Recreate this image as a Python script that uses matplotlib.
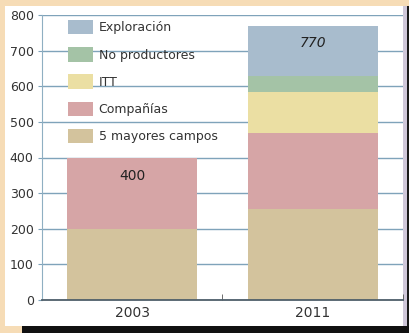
import matplotlib
matplotlib.use("Agg")
import matplotlib.pyplot as plt
from matplotlib.patches import Rectangle, Patch

# --- data ---
years = ["2003", "2011"]
series = ["5 mayores campos", "Compañías", "ITT", "No productores", "Exploración"]
mayores = [200, 255]
companias = [200, 215]
itt = [0, 115]
no_prod = [0, 45]
exploracion = [0, 140]
totals = ["400", "770"]

colors = ["#D3C39D", "#D6A5A6", "#EBDFA3", "#A4C3A6", "#A8BCCD"]

W, H = 410, 333
fig = plt.figure(figsize=(W / 100, H / 100), dpi=100)
fig.patch.set_facecolor("#F6DCB6")

def px(x0, y0, x1, y1, color):
    # rectangle in pixel coords (origin top-left)
    fig.patches.append(Rectangle((x0 / W, 1 - y1 / H), (x1 - x0) / W, (y1 - y0) / H,
                                 transform=fig.transFigure, facecolor=color,
                                 edgecolor="none", zorder=-10))

px(5, 6, 403, 326, "white")
px(403, 6, 410, 333, "#CFC7D9")
px(407, 6, 410, 333, "#1A1A1A")
px(22, 326, 410, 333, "#111111")

ax = fig.add_axes([42 / W, (H - 300) / H, (403 - 42) / W, 285 / H])
ax.set_facecolor("none")
ax.set_zorder(5)

x = [0, 1]
stack = [mayores, companias, itt, no_prod, exploracion]
bottom = [0, 0]
for vals, c, name in zip(stack, colors, series):
    ax.bar(x, vals, width=0.72, bottom=bottom, color=c, label=name, zorder=2)
    bottom = [b + v for b, v in zip(bottom, vals)]

ax.text(0, 348, totals[0], ha="center", va="center", fontsize=10, color="#222222", zorder=3)
ax.text(1, 722, totals[1], ha="center", va="center", fontsize=10, color="#222222",
        style="italic", zorder=3)

ax.set_xlim(-0.5, 1.5)
ax.set_ylim(0, 800)
ax.set_yticks(range(0, 801, 100))
ax.set_xticks(x)
ax.set_xticklabels(years)
ax.set_xticks([0.5, 1.5], minor=True)
ax.tick_params(axis="y", labelsize=9, colors="#333333", length=3, color="#7FA3BA", pad=3)
ax.tick_params(axis="x", which="major", labelsize=10, colors="#333333", length=0, pad=4)
ax.tick_params(axis="x", which="minor", length=4, color="#555555", direction="in")

ax.grid(axis="y", color="#7FA3BA", linewidth=1.0, zorder=1)
ax.set_axisbelow(True)
for s in ["top", "right"]:
    ax.spines[s].set_visible(False)
ax.spines["left"].set_color("#8FAFC2")
ax.spines["bottom"].set_color("#4F5F6A")
ax.spines["bottom"].set_linewidth(1.3)

handles = [Patch(facecolor=c, edgecolor="none") for c in colors][::-1]
leg = ax.legend(handles, series[::-1], loc="upper left", bbox_to_anchor=(0.058, 1.0),
                frameon=False, fontsize=9, handlelength=2.0, handleheight=1.4,
                labelspacing=1.02, handletextpad=0.45, borderaxespad=0.0)
for t in leg.get_texts():
    t.set_color("#333333")

fig.savefig("out.png", dpi=100, facecolor=fig.get_facecolor())
